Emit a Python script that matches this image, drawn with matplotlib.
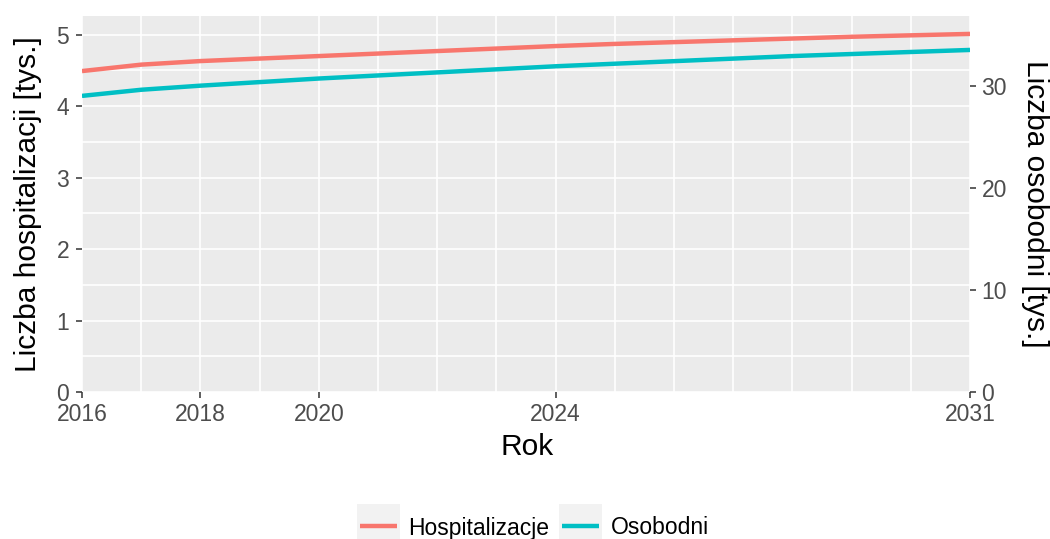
import matplotlib
matplotlib.use("Agg")
import matplotlib.pyplot as plt
from matplotlib.patches import Rectangle
from matplotlib.lines import Line2D
import numpy as np

# Data
years = [2016, 2017, 2018, 2019, 2020, 2021, 2022, 2023,
         2024, 2025, 2026, 2027, 2028, 2029, 2030, 2031]
hospitalizacje = [4.49, 4.58, 4.63, 4.665, 4.70, 4.735, 4.77, 4.805,
                  4.84, 4.87, 4.895, 4.92, 4.945, 4.97, 4.99, 5.01]   # tys.
osobodni = [29.0, 29.6, 30.0, 30.35, 30.7, 31.0, 31.3, 31.6,
            31.9, 32.15, 32.4, 32.65, 32.9, 33.1, 33.3, 33.5]         # tys.
x_ticks = [2016, 2018, 2020, 2024, 2031]
left_ticks = [0, 1, 2, 3, 4, 5]
right_ticks = [0, 10, 20, 30]
series_names = ["Hospitalizacje", "Osobodni"]
scale = 7  # osobodni axis = hospitalizacje axis * scale

RED = "#F8766D"
TEAL = "#00BFC4"
PANEL = "#EBEBEB"
TICK_TXT = "#4D4D4D"
TICK_CLR = "#333333"

plt.rcParams["font.family"] = ["Liberation Sans", "DejaVu Sans"]

W, H = 1050, 539
fig = plt.figure(figsize=(W / 100, H / 100), dpi=100)


def fx(x):
    return x / W


def fy(y):
    return 1 - y / H


left, right, top, bottom = 82, 970, 16, 392
ax = fig.add_axes([fx(left), fy(bottom), (right - left) / W, (bottom - top) / H])
ax.set_facecolor(PANEL)
for s in ax.spines.values():
    s.set_visible(False)

ymax = max(hospitalizacje) * 1.05
ax.set_xlim(years[0], years[-1])
ax.set_ylim(0, ymax)

ax.set_xticks(x_ticks)
ax.set_xticks(years, minor=True)
ax.set_yticks(left_ticks)
ax.set_yticks(np.arange(0.5, 5.5, 1.0), minor=True)
ax.grid(True, which="both", color="white", linewidth=1.2)
ax.set_axisbelow(True)
ax.tick_params(which="major", length=4.2, width=1.1, color=TICK_CLR,
               labelcolor=TICK_TXT, labelsize=16.5, pad=3.5)
ax.tick_params(which="minor", length=0)
ax.tick_params(axis="y", pad=5)

ax.plot(years, hospitalizacje, color=RED, linewidth=3.2, solid_capstyle="butt", zorder=3)

ax2 = ax.twinx()
for s in ax2.spines.values():
    s.set_visible(False)
ax2.set_ylim(0, ymax * scale)
ax2.set_yticks(right_ticks)
ax2.tick_params(length=4.2, width=1.1, color=TICK_CLR, labelcolor=TICK_TXT,
                labelsize=16.5, pad=4)
ax2.plot(years, osobodni, color=TEAL, linewidth=3.2, solid_capstyle="butt", zorder=3)

# Axis titles
fig.text(fx(28), fy(204), "Liczba hospitalizacji [tys.]", rotation=90,
         ha="center", va="center", fontsize=21.5, color="black")
fig.text(fx(1035), fy(204), "Liczba osobodni [tys.]", rotation=270,
         ha="center", va="center", fontsize=21.5, color="black")
fig.text(fx(527), fy(447), "Rok", ha="center", va="center",
         fontsize=21.5, color="black")

# Legend at the bottom
legend_items = [(series_names[0], RED, 357, 408), (series_names[1], TEAL, 559, 611)]
for name, col, kx, tx in legend_items:
    fig.patches.append(Rectangle((fx(kx), fy(547)), 43 / W, 43 / H,
                                 transform=fig.transFigure, facecolor="#F2F2F2",
                                 edgecolor="none"))
    fig.lines.append(Line2D([fx(kx + 3), fx(kx + 40)], [fy(525.5), fy(525.5)],
                            transform=fig.transFigure, color=col, linewidth=3.2,
                            solid_capstyle="butt"))
    fig.text(fx(tx), fy(525.5), name, ha="left", va="center_baseline",
             fontsize=16.5, color="black")

fig.savefig("out.png", dpi=100)
